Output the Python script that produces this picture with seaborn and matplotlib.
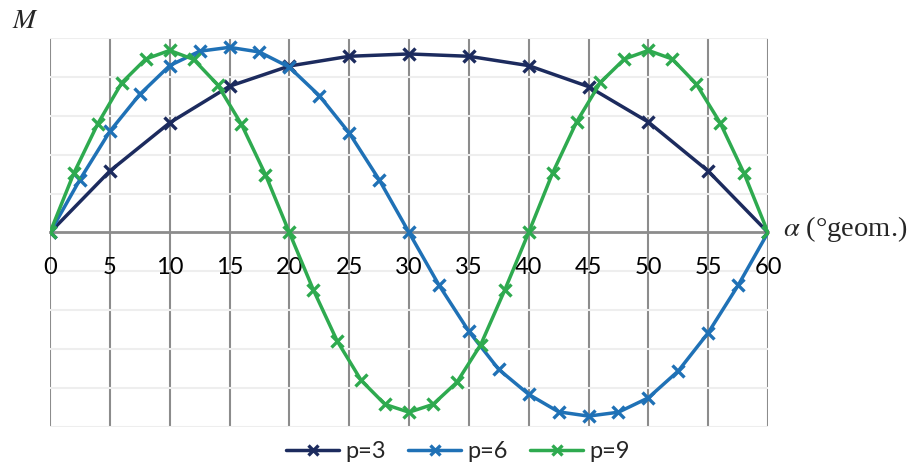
import numpy as np
import pandas as pd
import matplotlib
matplotlib.use("Agg")
import matplotlib.pyplot as plt
import seaborn as sns

# Winkel (°geom.) und Momentwerte je Polpaarzahl
alpha_p3 = [0, 5, 10, 15, 20, 25, 30, 35, 40, 45, 50, 55, 60]
m_p3 = [0, 1.58, 2.82, 3.76, 4.28, 4.53, 4.59, 4.53, 4.29, 3.75, 2.84, 1.58, 0]

alpha_p6 = [0, 2.5, 5, 7.5, 10, 12.5, 15, 17.5, 20, 22.5, 25, 27.5, 30,
            32.5, 35, 37.5, 40, 42.5, 45, 47.5, 50, 52.5, 55, 57.5, 60]
m_p6 = [0, 1.36, 2.60, 3.55, 4.29, 4.66, 4.76, 4.64, 4.25, 3.52, 2.56, 1.36, 0,
        -1.35, -2.54, -3.52, -4.16, -4.61, -4.72, -4.62, -4.25, -3.56, -2.58, -1.36, 0]

alpha_p9 = list(range(0, 61, 2))
m_p9 = [0, 1.53, 2.80, 3.85, 4.46, 4.68, 4.45, 3.80, 2.78, 1.49, 0,
        -1.47, -2.79, -3.80, -4.42, -4.62, -4.42, -3.85, -2.88, -1.48, 0,
        1.53, 2.84, 3.86, 4.46, 4.68, 4.46, 3.82, 2.82, 1.52, 0]

series_names = ["p=3", "p=6", "p=9"]
colors = ["#1c2b5e", "#1f71b6", "#2eaa4f"]

data = {
    "p=3": (alpha_p3, m_p3),
    "p=6": (alpha_p6, m_p6),
    "p=9": (alpha_p9, m_p9),
}

sns.set_style("white")
plt.rcParams["font.family"] = ["Lato", "DejaVu Sans"]
plt.rcParams["mathtext.fontset"] = "stix"

fig = plt.figure(figsize=(9.13, 4.68), dpi=100)
ax = fig.add_axes([50 / 913, 1 - 427 / 468, 718 / 913, 389 / 468])

for name, col in zip(series_names, colors):
    x, y = data[name]
    sns.lineplot(x=x, y=y, color=col, marker="x", markersize=9,
                 markeredgewidth=2.4, markeredgecolor=col, linewidth=2.5,
                 estimator=None, sort=False, ax=ax, label=name)

ax.set_xlim(0, 60)
ax.set_ylim(-5, 5)
ax.set_xticks(range(0, 61, 5))
ax.set_yticks(range(-5, 6))
ax.set_yticklabels([])
ax.set_xlabel("")
ax.set_ylabel("")

# Gitter: vertikal kräftig grau, horizontal sehr hell
ax.grid(False)
for xv in range(0, 61, 5):
    ax.axvline(xv, color="#8c8c8c", lw=1.5, zorder=0)
for yv in range(-5, 6):
    if yv != 0:
        ax.axhline(yv, color="#eeeeee", lw=1.5, zorder=0)

for s in ["left", "right", "top"]:
    ax.spines[s].set_visible(False)
ax.spines["bottom"].set_position(("data", 0))
ax.spines["bottom"].set_color("#8c8c8c")
ax.spines["bottom"].set_linewidth(2)
ax.spines["bottom"].set_zorder(0.5)
ax.tick_params(axis="x", length=0, pad=18, labelsize=17, colors="black")
ax.tick_params(axis="y", length=0)

fig.text(12 / 913, 1 - 20 / 468, r"$M$", fontsize=20, va="center", ha="left")
fig.text(783 / 913, 1 - 229 / 468, r"$\alpha$ (°geom.)", family="Liberation Serif",
         fontsize=20.5, va="center", ha="left")

handles, labels = ax.get_legend_handles_labels()
ax.get_legend().remove()
fig.legend(handles, labels, loc="center", bbox_to_anchor=(458 / 913, 1 - 452 / 468),
           ncol=3, frameon=False, fontsize=17, handlelength=2.25, columnspacing=0.95,
           handletextpad=0.25, markerscale=0.8)

fig.savefig("out.png", dpi=100)
